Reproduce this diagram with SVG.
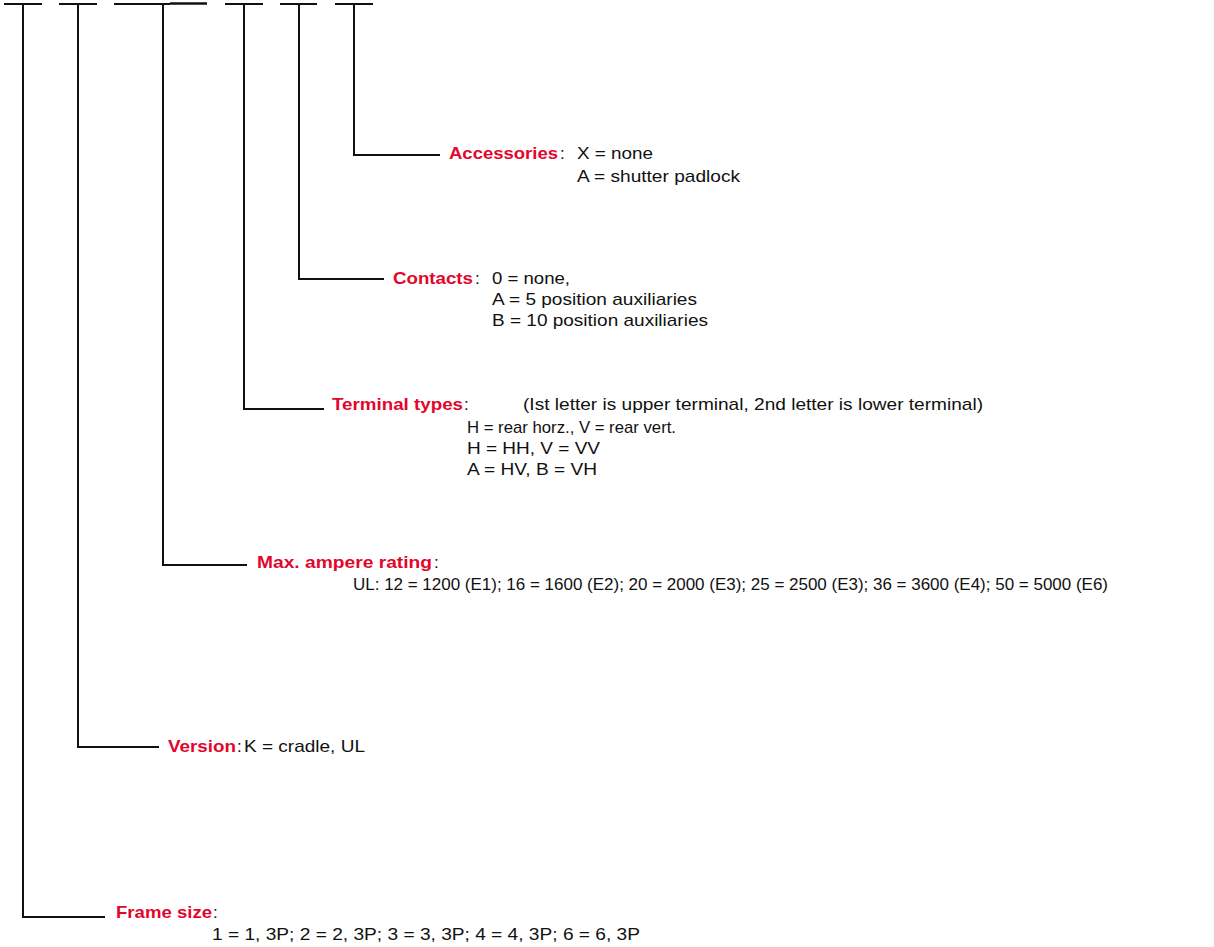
<svg xmlns="http://www.w3.org/2000/svg" width="1214" height="947" viewBox="0 0 1214 947">
<style>
.ln{stroke:#111;stroke-width:2;fill:none;stroke-linecap:butt}
text{font-family:"Liberation Sans",Arial,Helvetica,sans-serif;font-size:17px;fill:#111}
.lb{fill:#e2062c;font-weight:bold}
</style>
<rect width="1214" height="947" fill="#fff"/>
<g id="connectors" class="ln">
<path d="M4 4H42M59 4H97M114 4H170M225 4H263M280 4H317M335 4H373"/>
<path d="M170 3.5H207" stroke-width="2.6"/>
<path d="M23 4V917H105"/>
<path d="M78 4V747H159"/>
<path d="M163 4V565H247"/>
<path d="M244 4V409H324"/>
<path d="M299 4V279H384"/>
<path d="M354 4V155H440"/>
</g>
<g id="accessories">
<text x="449" y="159" class="lb" textLength="109" lengthAdjust="spacingAndGlyphs">Accessories</text>
<text x="560" y="159">:</text>
<text x="577" y="159" textLength="76" lengthAdjust="spacingAndGlyphs">X = none</text>
<text x="577" y="182" textLength="163" lengthAdjust="spacingAndGlyphs">A = shutter padlock</text>
</g>
<g id="contacts">
<text x="393" y="284" class="lb" textLength="80" lengthAdjust="spacingAndGlyphs">Contacts</text>
<text x="475" y="284">:</text>
<text x="492" y="284" textLength="78" lengthAdjust="spacingAndGlyphs">0 = none,</text>
<text x="492" y="305" textLength="205" lengthAdjust="spacingAndGlyphs">A = 5 position auxiliaries</text>
<text x="492" y="326" textLength="216" lengthAdjust="spacingAndGlyphs">B = 10 position auxiliaries</text>
</g>
<g id="terminal-types">
<text x="332" y="410" class="lb" textLength="131" lengthAdjust="spacingAndGlyphs">Terminal types</text>
<text x="464" y="410">:</text>
<text x="523" y="410" textLength="460" lengthAdjust="spacingAndGlyphs">(Ist letter is upper terminal, 2nd letter is lower terminal)</text>
<text x="467" y="433" textLength="209" lengthAdjust="spacingAndGlyphs">H = rear horz., V = rear vert.</text>
<text x="467" y="454" textLength="133" lengthAdjust="spacingAndGlyphs">H = HH, V = VV</text>
<text x="467" y="475" textLength="130" lengthAdjust="spacingAndGlyphs">A = HV, B = VH</text>
</g>
<g id="max-ampere-rating">
<text x="257" y="568" class="lb" textLength="175" lengthAdjust="spacingAndGlyphs">Max. ampere rating</text>
<text x="434" y="568">:</text>
<text x="353" y="590" textLength="755" lengthAdjust="spacingAndGlyphs">UL: 12 = 1200 (E1); 16 = 1600 (E2); 20 = 2000 (E3); 25 = 2500 (E3); 36 = 3600 (E4); 50 = 5000 (E6)</text>
</g>
<g id="version">
<text x="168" y="752" class="lb" textLength="68" lengthAdjust="spacingAndGlyphs">Version</text>
<text x="237" y="752">:</text>
<text x="244" y="752" textLength="121" lengthAdjust="spacingAndGlyphs">K = cradle, UL</text>
</g>
<g id="frame-size">
<text x="116" y="918" class="lb" textLength="96" lengthAdjust="spacingAndGlyphs">Frame size</text>
<text x="213" y="918">:</text>
<text x="212" y="940" textLength="428" lengthAdjust="spacingAndGlyphs">1 = 1, 3P; 2 = 2, 3P; 3 = 3, 3P; 4 = 4, 3P; 6 = 6, 3P</text>
</g>
</svg>
